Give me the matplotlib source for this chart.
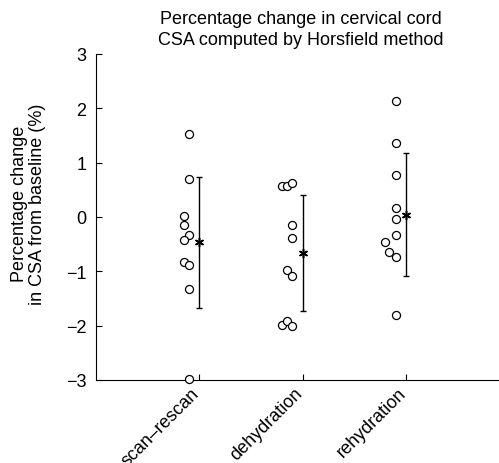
import matplotlib
matplotlib.use("Agg")
import matplotlib.pyplot as plt
import matplotlib.transforms as mtransforms
import numpy as np

plt.rcParams['font.family'] = ['Liberation Sans', 'DejaVu Sans']

# data
groups = ['scan\u2013rescan', 'dehydration', 'rehydration']
scan_rescan = [1.53, 0.70, 0.01, -0.15, -0.33, -0.42, -0.82, -0.89, -1.32, -2.98]
dehydration = [0.57, 0.57, 0.63, -0.15, -0.38, -0.97, -1.09, -1.98, -1.91, -2.00]
rehydration = [2.13, 1.37, 0.77, 0.16, -0.04, -0.33, -0.47, -0.65, -0.73, -1.81]
# jitter of each point left of the category (category units)
scan_jit = [-0.10, -0.10, -0.15, -0.15, -0.10, -0.15, -0.15, -0.10, -0.10, -0.10]
dehy_jit = [-0.20, -0.15, -0.10, -0.10, -0.10, -0.15, -0.10, -0.20, -0.15, -0.10]
rehy_jit = [-0.10, -0.10, -0.10, -0.10, -0.10, -0.10, -0.20, -0.16, -0.10, -0.10]
means = [-0.47, -0.67, 0.04]
bar_top = [0.73, 0.41, 1.17]
bar_bot = [-1.67, -1.74, -1.08]

FS = 13

fig = plt.figure(figsize=(4.99, 4.64), dpi=100)
ax = fig.add_axes([0.1924, 0.179, 0.8076, 0.7025])

series = [scan_rescan, dehydration, rehydration]
jitters = [scan_jit, dehy_jit, rehy_jit]
for i, (vals, jit) in enumerate(zip(series, jitters)):
    pos = i + 1
    xs = pos + np.array(jit)
    ax.plot(xs, vals, 'o', mfc='white', mec='black', mew=0.9, ms=5.8,
            linestyle='none', clip_on=False, zorder=3)
    m = means[i]
    ax.errorbar(pos, m, yerr=[[m - bar_bot[i]], [bar_top[i] - m]],
                fmt='none', ecolor='black', elinewidth=1.0, capsize=2,
                capthick=1.0, zorder=2)
    ax.plot(pos, m, marker=(6, 2, 0), color='black', ms=6.5, mew=1.1,
            linestyle='none', zorder=4)

ax.set_xlim(0, 3.9)
ax.set_ylim(-3, 3)
ax.set_yticks(range(-3, 4))
ax.set_yticklabels([str(v).replace('-', '\u2212') for v in range(-3, 4)],
                   fontsize=FS)
ax.set_xticks([1, 2, 3])
ax.set_xticklabels([])
# rotated category labels, ends placed just under each tick
trans = mtransforms.blended_transform_factory(ax.transData, ax.transAxes)
trans = trans + mtransforms.ScaledTranslation(-6 / 72, -3 / 72, fig.dpi_scale_trans)
for i, g in enumerate(groups):
    ax.text(i + 1, 0, g, transform=trans, rotation=45, ha='right', va='top',
            rotation_mode='anchor', fontsize=FS)
ax.tick_params(direction='in', length=4, width=0.8)
ax.tick_params(axis='y', pad=7)
for s in ['top', 'right']:
    ax.spines[s].set_visible(False)
for s in ['left', 'bottom']:
    ax.spines[s].set_linewidth(0.8)

fig.text(0.057, 0.56, 'Percentage change\nin CSA from baseline (%)',
         rotation=90, ha='center', va='center', fontsize=FS, linespacing=1.05)
fig.text(0.603, 0.935, 'Percentage change in cervical cord\nCSA computed by Horsfield method',
         ha='center', va='center', fontsize=FS, linespacing=1.3)

fig.savefig('out.png', dpi=100)
